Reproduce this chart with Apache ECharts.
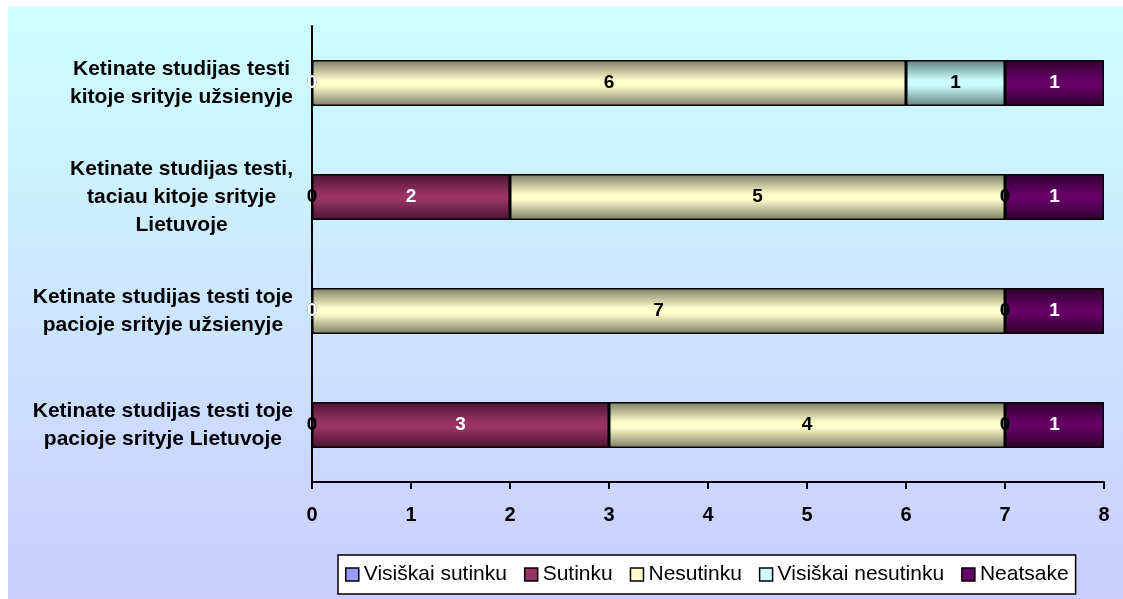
<!DOCTYPE html>
<html>
<head>
<meta charset="utf-8">
<title>Ketinate studijas testi</title>
<script src="https://cdn.jsdelivr.net/npm/echarts@6/dist/echarts.min.js"></script>
<style>
    html, body { margin: 0; padding: 0; background: #ffffff; }
    #echars { width: 1123px; height: 599px; }
</style>
</head>
<body>
<div id="echars"></div>
<script>
    let categories = [
        'Ketinate studijas testi\nkitoje srityje užsienyje',
        'Ketinate studijas testi,\ntaciau kitoje srityje\nLietuvoje',
        'Ketinate studijas testi toje\npacioje srityje užsienyje',
        'Ketinate studijas testi toje\npacioje srityje Lietuvoje'
    ];
    let seriesNames = ['Visiškai sutinku', 'Sutinku', 'Nesutinku', 'Visiškai nesutinku', 'Neatsake'];
    let visiskaiSutinku = [0, 0, 0, 0];
    let sutinku = [0, 2, 0, 3];
    let nesutinku = [6, 5, 7, 4];
    let visiskaiNesutinku = [1, 0, 0, 0];
    let neatsake = [1, 1, 1, 1];
    let xTicks = [0, 1, 2, 3, 4, 5, 6, 7, 8];

    let font = 'Arial, "Liberation Sans", sans-serif';

    // cylinder-like shading: dark edge, light middle, dark edge
    function shade(edge, mid) {
        return new echarts.graphic.LinearGradient(0, 0, 0, 1, [
            {offset: 0, color: edge},
            {offset: 0.45, color: mid},
            {offset: 0.55, color: mid},
            {offset: 1, color: edge}
        ]);
    }

    let flat = ['#9999ff', '#993366', '#ffffcc', '#ccffff', '#660066'];
    let fills = [
        shade('#4d4d80', '#9999ff'),
        shade('#4a1530', '#993366'),
        shade('#7d7d66', '#ffffcc'),
        shade('#5f8080', '#ccffff'),
        shade('#2e002e', '#660066')
    ];
    let labelColors = ['#000000', '#ffffff', '#000000', '#000000', '#ffffff'];
    let values = [visiskaiSutinku, sutinku, nesutinku, visiskaiNesutinku, neatsake];

    let myChart = echarts.init(document.getElementById('echars'));

    let option = {
        animation: false,
        graphic: [{
            type: 'rect',
            z: -10,
            shape: {x: 8, y: 7, width: 1115, height: 592},
            style: {
                fill: new echarts.graphic.LinearGradient(0, 0, 0, 1, [
                    {offset: 0, color: '#ccffff'},
                    {offset: 1, color: '#ccccff'}
                ])
            }
        }],
        grid: {left: 312, right: 19, top: 26, bottom: 117},
        legend: {
            left: 338,
            top: 555,
            padding: [9, 7, 9, 7],
            backgroundColor: '#ffffff',
            borderColor: '#000000',
            borderWidth: 1.5,
            borderRadius: 0,
            itemWidth: 13,
            itemHeight: 13,
            itemGap: 17,
            icon: 'rect',
            textStyle: {fontFamily: font, fontSize: 21, color: '#000000'},
            data: seriesNames.map(function (n, i) {
                return {name: n, itemStyle: {color: flat[i], borderColor: '#000000', borderWidth: 1.5}};
            })
        },
        xAxis: {
            type: 'value',
            min: 0,
            max: 8,
            interval: 1,
            axisLine: {show: true, lineStyle: {color: '#000000', width: 2}},
            axisTick: {show: true, length: 7, lineStyle: {color: '#000000', width: 2}},
            splitLine: {show: false},
            axisLabel: {
                margin: 23,
                fontFamily: font,
                fontSize: 20,
                fontWeight: 'bold',
                color: '#000000',
                formatter: function (v) { return xTicks.indexOf(v) >= 0 ? String(v) : ''; }
            }
        },
        yAxis: {
            type: 'category',
            inverse: true,
            data: categories,
            axisLine: {show: true, lineStyle: {color: '#000000', width: 2}},
            axisTick: {show: false},
            axisLabel: {
                margin: 19,
                align: 'right',
                // each line centred inside the right-aligned block
                formatter: function (v) {
                    return v.split('\n').map(function (s) { return '{c|' + s + '}'; }).join('\n');
                },
                rich: {
                    c: {
                        align: 'center',
                        fontFamily: font,
                        fontSize: 21,
                        fontWeight: 'bold',
                        lineHeight: 28,
                        color: '#000000'
                    }
                }
            }
        },
        series: seriesNames.map(function (n, i) {
            return {
                name: n,
                type: 'bar',
                stack: 'total',
                barWidth: 46,
                data: values[i],
                itemStyle: {color: fills[i], borderColor: '#000000', borderWidth: 1.5},
                label: {
                    show: true,
                    position: 'inside',
                    fontFamily: font,
                    fontSize: 19,
                    fontWeight: 'bold',
                    color: labelColors[i]
                }
            };
        })
    };

    myChart.setOption(option);
</script>
</body>
</html>
